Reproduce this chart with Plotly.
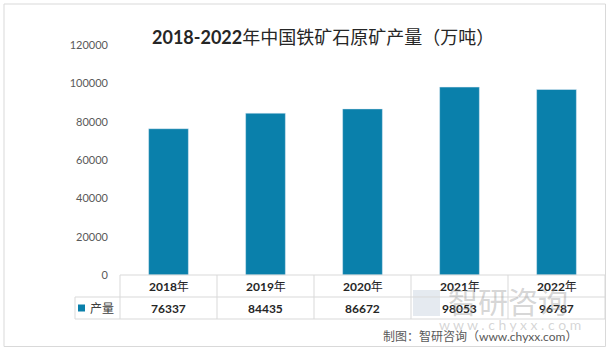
import plotly.graph_objects as go

years = ["2018年", "2019年", "2020年", "2021年", "2022年"]
output = [76337, 84435, 86672, 98053, 96787]
series_name = "产量"
title_years = "2018-2022"
title_rest = "年中国铁矿石原矿产量（万吨）"
source = "制图：智研咨询（www.chyxx.com）"
y_ticks = [0, 20000, 40000, 60000, 80000, 100000, 120000]

W, H = 610, 352
L, R, T, B = 120, 5, 45, 77
PW, PH = W - L - R, H - T - B
BAR = "#0A80AB"
GRID = "#D9D9D9"
TXT = "#404040"
FONT = "Lato, 'Noto Sans CJK SC', sans-serif"


def px(x):
    return (x - L) / PW


def py(y):
    return (H - B - y) / PH


fig = go.Figure(go.Bar(x=years, y=output, marker_color=BAR, width=0.41,
                       showlegend=False, hoverinfo="x+y"))

shapes = []
# outer border
shapes.append(dict(type="rect", xref="paper", yref="paper", x0=px(4), x1=px(605.5),
                   y0=py(346.5), y1=py(4), line=dict(color="#D9D9D9", width=1)))
# table horizontal lines
for yy, x0 in [(275, 120), (297, 75), (319, 75)]:
    shapes.append(dict(type="line", xref="paper", yref="paper", x0=px(x0), x1=px(605),
                       y0=py(yy), y1=py(yy), line=dict(color=GRID, width=1)))
# table vertical lines
for i in range(len(years) + 1):
    shapes.append(dict(type="line", xref="paper", yref="paper", x0=i / len(years), x1=i / len(years),
                       y0=py(275), y1=py(319), line=dict(color=GRID, width=1)))
shapes.append(dict(type="line", xref="paper", yref="paper", x0=px(75), x1=px(75),
                   y0=py(297), y1=py(319), line=dict(color=GRID, width=1)))
# legend key
shapes.append(dict(type="rect", xref="paper", yref="paper", x0=px(78), x1=px(85),
                   y0=py(311.5), y1=py(304.5), fillcolor=BAR, line=dict(width=0)))
# watermark logo
shapes.append(dict(type="rect", xref="paper", yref="paper", x0=px(413), x1=px(440),
                   y0=py(316), y1=py(290), fillcolor="rgba(170,185,205,0.3)", line=dict(width=0),
                   layer="below"))


def ann(x, y, text, size, color, xref="paper", xanchor="center"):
    return dict(x=x, xref=xref, y=y, yref="paper", text=text, showarrow=False,
                xanchor=xanchor, yanchor="middle",
                font=dict(size=size, color=color, family=FONT))


annotations = []
for yr, v in zip(years, output):
    annotations.append(ann(yr, py(286), f"<b>{yr[:-1]}</b>{yr[-1]}", 12, "#262626", xref="x"))
    annotations.append(ann(yr, py(308), f"<b>{v}</b>", 12, "#262626", xref="x"))
annotations.append(ann(px(88), py(308), series_name, 12, TXT, xanchor="left"))
annotations.append(ann(px(323), py(37), f"<b>{title_years}</b>{title_rest}", 18, "#262626"))
annotations.append(ann(px(579), py(336), source, 12, "#595959", xanchor="right"))
annotations.append(ann(px(508), py(301), "智研咨询", 30, "rgba(150,150,150,0.4)"))
annotations.append(ann(px(510), py(324), "w w w . c h y x x . c o m", 14, "rgba(150,150,150,0.4)"))

fig.update_layout(
    width=W, height=H,
    margin=dict(l=L, r=R, t=T, b=B),
    paper_bgcolor="white", plot_bgcolor="white",
    shapes=shapes, annotations=annotations,
    xaxis=dict(showticklabels=False, showgrid=False, showline=False, zeroline=False,
               range=[-0.5, len(years) - 0.5], ticks=""),
    yaxis=dict(range=[0, 120000], tickvals=y_ticks, ticktext=[str(t) for t in y_ticks],
               showgrid=False, zeroline=False,
               showline=False, ticks="", ticklabelstandoff=11,
               tickfont=dict(size=11, color="#595959", family=FONT)),
    font=dict(family=FONT),
)

fig.write_html("out.html")
